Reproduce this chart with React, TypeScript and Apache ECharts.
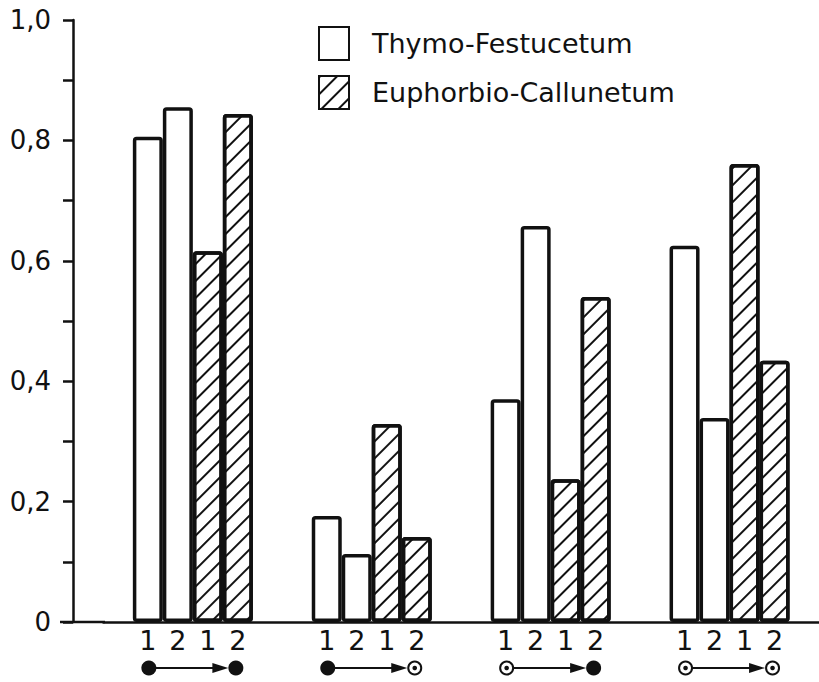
import React, { useEffect, useRef } from "react";
import * as echarts from "echarts";

// Four transition groups, each with two periods per community
const groups = ["A", "B", "C", "D"];
const thymo1 = [0.806, 0.176, 0.37, 0.625];
const thymo2 = [0.855, 0.113, 0.658, 0.339];
const euph1 = [0.616, 0.329, 0.237, 0.761];
const euph2 = [0.844, 0.141, 0.54, 0.434];
const periods = ["1", "2", "1", "2"];
// Transition symbols: 1 = filled dot, 0 = ringed dot
const fromState = [1, 1, 0, 0];
const toState = [1, 0, 1, 0];
const yTicks = [0, 0.2, 0.4, 0.6, 0.8, 1.0];

const FONT = "DejaVu Sans";
const INK = "#111";

const hatch = {
  symbol: "rect",
  symbolSize: 1,
  color: INK,
  backgroundColor: "#fff",
  dashArrayX: [1, 0],
  dashArrayY: [1.3, 9.6],
  rotation: -Math.PI / 4,
};

export default function App() {
  const ref = useRef<HTMLDivElement>(null);

  useEffect(() => {
    if (!ref.current) return;
    const chart = echarts.init(ref.current, undefined, { renderer: "svg" });

    const barSeries = (name: string, data: number[], idx: number, hatched: boolean) => ({
      type: "bar",
      name,
      data,
      barWidth: 30,
      barGap: "0%",
      itemStyle: {
        color: "#fff",
        borderColor: INK,
        borderWidth: 3.5,
        borderRadius: 2,
        decal: hatched ? hatch : undefined,
      },
      label: {
        show: true,
        position: "bottom",
        distance: 5,
        formatter: () => periods[idx],
        fontSize: 27,
        fontFamily: FONT,
        color: INK,
      },
      emphasis: { disabled: true },
    });

    const fmt = (v: number) => (v === 0 ? "0" : v.toFixed(1).replace(".", ","));

    chart.setOption({
      animation: false,
      grid: { left: 103.4, right: -1.6, top: 20, bottom: 60, containLabel: false },
      legend: {
        data: ["Thymo-Festucetum", "Euphorbio-Callunetum"],
        orient: "vertical",
        left: 313,
        top: 21,
        itemWidth: 30,
        itemHeight: 33,
        itemGap: 14,
        icon: "rect",
        selectedMode: false,
        textStyle: {
          fontSize: 27,
          fontFamily: FONT,
          color: INK,
          padding: [0, 0, 4, 18],
        },
      },
      xAxis: {
        type: "category",
        data: groups,
        axisLine: { lineStyle: { color: INK, width: 2.5 } },
        axisTick: { show: false },
        axisLabel: { show: false },
        splitLine: { show: false },
      },
      yAxis: {
        type: "value",
        min: 0,
        max: 1,
        interval: 0.2,
        offset: 30.4,
        axisLine: { show: true, lineStyle: { color: INK, width: 2.5 } },
        axisTick: { show: true, length: 10, lineStyle: { color: INK, width: 2.5 } },
        minorTick: { show: true, splitNumber: 2, length: 10, lineStyle: { color: INK, width: 2.5 } },
        splitLine: { show: false },
        axisLabel: {
          margin: 22,
          fontSize: 26,
          fontFamily: FONT,
          color: INK,
          formatter: (v: number) => (yTicks.some((t) => Math.abs(t - v) < 1e-6) ? fmt(v) : ""),
        },
      },
      graphic: [
        {
          type: "line",
          shape: { x1: 60, y1: 622, x2: 105, y2: 622 },
          style: { stroke: INK, lineWidth: 2.5 },
          silent: true,
        },
      ],
      series: [
        barSeries("Thymo-Festucetum", thymo1, 0, false),
        barSeries("Thymo-Festucetum", thymo2, 1, false),
        barSeries("Euphorbio-Callunetum", euph1, 2, true),
        barSeries("Euphorbio-Callunetum", euph2, 3, true),
        {
          type: "custom",
          name: "transition",
          clip: false,
          silent: true,
          data: groups.map((_, i) => [i, 0, fromState[i], toState[i]]),
          encode: { x: 0, y: 1 },
          renderItem: (params: any, api: any) => {
            const p = api.coord([api.value(0), 0]);
            const y = p[1] + 46;
            const xl = p[0] - 44;
            const xr = p[0] + 43;
            const dot = (cx: number, filled: number) =>
              filled
                ? [{ type: "circle", shape: { cx, cy: y, r: 7.5 }, style: { fill: INK } }]
                : [
                    { type: "circle", shape: { cx, cy: y, r: 6.5 }, style: { fill: "#fff", stroke: INK, lineWidth: 2 } },
                    { type: "circle", shape: { cx, cy: y, r: 2.3 }, style: { fill: INK } },
                  ];
            const tip = xr - 7.5;
            return {
              type: "group",
              children: [
                { type: "line", shape: { x1: xl + 6, y1: y, x2: tip - 12, y2: y }, style: { stroke: INK, lineWidth: 2 } },
                {
                  type: "polygon",
                  shape: { points: [[tip - 16, y - 5], [tip, y], [tip - 16, y + 5]] },
                  style: { fill: INK },
                },
                ...dot(xl, api.value(2)),
                ...dot(xr, api.value(3)),
              ],
            };
          },
        },
      ],
    });

    return () => chart.dispose();
  }, []);

  return (
    <div
      ref={ref}
      style={{ position: "fixed", left: 0, top: 0, width: 819, height: 682, background: "#fff" }}
    />
  );
}
